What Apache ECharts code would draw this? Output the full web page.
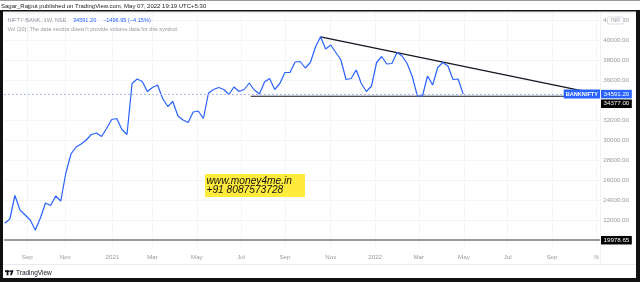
<!DOCTYPE html>
<html><head><meta charset="utf-8">
<script src="https://cdn.jsdelivr.net/npm/echarts@6/dist/echarts.min.js"></script>
<style>html,body{margin:0;padding:0;background:#fff}#c{width:640px;height:282px}</style>
</head><body><div id="c"></div>
<script>
// ---- data ----
const firstWeek = '2020-08-10';   // weekly bars (Monday dates), NIFTY BANK 1W closes
const closes = [
  21670, 22100, 24450, 23000, 22500, 22000, 21000, 22200, 23700, 23450,
  24400, 23900, 26700, 28600, 29300, 29600, 30000, 30550, 30700, 30350,
  31150, 32050, 32150, 31050, 30550, 35650, 36100, 35850, 34850, 35250,
  35500, 34150, 33350, 33850, 32400, 32000, 31750, 32800, 32900, 32150,
  34700, 35050, 35250, 35050, 34550, 35300, 34850, 35050, 35700, 35000,
  34600, 35800, 36150, 35050, 35650, 36750, 36750, 37800, 37850, 37200,
  37750, 39300, 40323, 39100, 39500, 38750, 38000, 36050, 36150, 37000,
  35650, 34850, 35400, 37750, 38350, 37600, 37650, 38750, 38400, 37650,
  36350, 34420, 34400, 36400, 35500, 37250, 37750, 37400, 36050, 36100, 34591.20
];
const trendDates = ['2021-10-18', '2022-10-18'];
const trendValues = [40323, 34830];
const supportDates = ['2021-07-14', '2022-11-06'];
const supportValues = [34377, 34377];
const hLineValue = 19978.65;
const changeText = '\u22121496.95 (\u22124.15%)';
const xTickDates = ['2020-09-10','2020-11-01','2021-01-05','2021-03-01','2021-05-01','2021-07-01','2021-08-30',
                    '2021-11-01','2022-01-01','2022-03-02','2022-05-03','2022-07-02','2022-09-01','2022-11-01'];
const xTickLabels = ['Sep','Nov','2021','Mar','May','Jul','Sep','Nov','2022','Mar','May','Jul','Sep','N'];
const yTicks = [22000, 24000, 26000, 28000, 30000, 32000, 36000, 38000, 40000, 42000];
const xMin = '2020-08-09', xMax = '2022-11-06';
const yMin = 19200, yMax = 42700;

// ---- build ----
const ts = s => new Date(s + 'T00:00:00Z').getTime();
const WEEK = 7 * 86400000;
const t0 = ts(firstWeek);
const lineData = closes.map((v, i) => [t0 + i * WEEK, v]);
const last = closes[closes.length - 1];
const xTickTs = xTickDates.map(ts);
const labelOf = {};
xTickTs.forEach((t, i) => { labelOf[t] = xTickLabels[i]; });
const FF = 'Liberation Sans';
const CLEAR = 'rgba(0,0,0,0)';

const chart = echarts.init(document.getElementById('c'), null, {renderer: 'canvas'});
const badge = (txt, bg, extra) => Object.assign({
  show: true, position: 'end', distance: 1, formatter: txt, color: '#fff', backgroundColor: bg,
  fontSize: 6.2, fontFamily: FF, padding: [1.5, 2.5, 1, 2.5], borderRadius: 0
}, extra || {});

chart.setOption({
  animation: false,
  textStyle: {fontFamily: FF},
  grid: {left: 4, right: 40, top: 13, bottom: 34},
  xAxis: {
    type: 'value', min: ts(xMin), max: ts(xMax), scale: true,
    axisLine: {show: false},
    axisTick: {show: false, customValues: xTickTs},
    splitLine: {show: true, lineStyle: {color: '#f4f5f9', width: 1}},
    axisLabel: {customValues: xTickTs, formatter: v => labelOf[v] || '', color: '#9a9a9a', fontSize: 6.2, margin: 6, fontFamily: FF}
  },
  yAxis: {
    type: 'value', position: 'right', min: yMin, max: yMax,
    axisLine: {show: false},
    axisTick: {show: false, customValues: yTicks},
    splitLine: {show: true, lineStyle: {color: '#f4f5f9', width: 1}},
    axisLabel: {customValues: yTicks, formatter: v => v.toFixed(2), color: '#9a9a9a', fontSize: 6.2, align: 'right', margin: 29, fontFamily: FF}
  },
  series: [
    {
      type: 'line', data: lineData, showSymbol: false, z: 4,
      lineStyle: {color: '#2962ff', width: 1.2},
      markLine: {
        silent: true, symbol: 'none', animation: false,
        data: [
          {yAxis: hLineValue, lineStyle: {color: '#787b86', width: 1.5, type: 'solid'},
           label: badge(hLineValue.toFixed(2), '#000')},
          {yAxis: last, lineStyle: {color: '#aab9f3', width: 1, type: [2, 2]},
           label: badge(last.toFixed(2), '#2962ff')},
          {yAxis: last + 0.001, lineStyle: {color: CLEAR, width: 0},
           label: badge('BANKNIFTY', '#2962ff', {position: 'insideEnd', distance: 0, fontWeight: 'bold', fontSize: 5.6, padding: [1.8, 2, 1.2, 2]})}
        ]
      }
    },
    {
      type: 'line', data: supportDates.map((d, i) => [ts(d), supportValues[i]]), showSymbol: false, z: 3,
      lineStyle: {color: '#131722', width: 1.2},
      markLine: {
        silent: true, symbol: 'none', animation: false,
        data: [{yAxis: supportValues[0], lineStyle: {color: CLEAR, width: 0},
                label: badge(supportValues[0].toFixed(2), '#000', {offset: [0, 7.5]})}]
      }
    },
    {
      type: 'line', data: trendDates.map((d, i) => [ts(d), trendValues[i]]), showSymbol: false, z: 3,
      lineStyle: {color: '#131722', width: 1.3}
    }
  ],
  graphic: [
    // frame
    {type: 'rect', shape: {x: 0, y: 0, width: 640, height: 1}, style: {fill: '#9a9a9a'}, z: 100},
    {type: 'rect', shape: {x: 0, y: 10, width: 640, height: 1.5}, style: {fill: '#111'}, z: 100},
    {type: 'rect', shape: {x: 0, y: 10, width: 3, height: 272}, style: {fill: '#111'}, z: 100},
    {type: 'rect', shape: {x: 636, y: 10, width: 4, height: 272}, style: {fill: '#111'}, z: 100},
    {type: 'rect', shape: {x: 0, y: 278, width: 640, height: 4}, style: {fill: '#111'}, z: 100},
    {type: 'rect', shape: {x: 3, y: 12.5, width: 633, height: 0.8}, style: {fill: '#e0e3eb'}, z: 99},
    {type: 'rect', shape: {x: 600, y: 13, width: 0.8, height: 251}, style: {fill: '#eceef3'}, z: 1},
    {type: 'rect', shape: {x: 3, y: 264, width: 633, height: 0.8}, style: {fill: '#e0e3eb'}, z: 99},
    // header
    {type: 'text', x: 1, y: 6, style: {text: 'Sagar_Rajput published on TradingView.com, May 07, 2022 19:19 UTC+5:30', fill: '#222', fontSize: 6, fontFamily: FF, verticalAlign: 'middle'}, z: 100},
    {type: 'text', x: 7.5, y: 20.7, style: {
      text: '{a|NIFTY BANK, 1W, NSE}  {b|' + last.toFixed(2) + '}  {b|' + changeText + '}',
      rich: {a: {fill: '#9598a1', fontSize: 5.6, fontFamily: FF}, b: {fill: '#2962ff', fontSize: 5.6, fontFamily: FF}},
      verticalAlign: 'middle'}, z: 100},
    {type: 'text', x: 7.5, y: 29.3, style: {text: "Vol (20): The data vendor doesn't provide volume data for this symbol.", fill: '#9598a1', fontSize: 5.5, fontFamily: FF, verticalAlign: 'middle'}, z: 100},
    // INR badge on price scale
    {type: 'rect', shape: {x: 607.5, y: 17, width: 16, height: 7, r: 1.5}, style: {fill: '#fff', stroke: '#c9ccd4', lineWidth: 0.7}, z: 100},
    {type: 'text', x: 615.5, y: 20.6, style: {text: 'INR', fill: '#9a9a9a', fontSize: 5.2, fontFamily: FF, align: 'center', verticalAlign: 'middle'}, z: 101},
    // watermark
    {type: 'rect', shape: {x: 205, y: 174, width: 100, height: 23}, style: {fill: '#ffeb3b'}, z: 50},
    {type: 'text', x: 206.5, y: 180.8, style: {text: 'www.money4me.in', fill: '#111', fontSize: 10.2, fontStyle: 'italic', fontFamily: FF, verticalAlign: 'middle'}, z: 51},
    {type: 'text', x: 206.5, y: 190.4, style: {text: '+91 8087573728', fill: '#111', fontSize: 10.2, fontStyle: 'italic', fontFamily: FF, verticalAlign: 'middle'}, z: 51},
    // footer logo
    {type: 'rect', shape: {x: 5, y: 270.3, width: 4, height: 1.8}, style: {fill: '#131722'}, z: 100},
    {type: 'rect', shape: {x: 6.6, y: 270.3, width: 1.8, height: 5}, style: {fill: '#131722'}, z: 100},
    {type: 'circle', shape: {cx: 10.2, cy: 271.2, r: 0.9}, style: {fill: '#131722'}, z: 100},
    {type: 'polygon', shape: {points: [[11.2, 270.3], [13.6, 270.3], [11.8, 275.3], [10.2, 275.3]]}, style: {fill: '#131722'}, z: 100},
    {type: 'text', x: 16, y: 273.3, style: {text: 'TradingView', fill: '#131722', fontSize: 6.5, fontFamily: FF, verticalAlign: 'middle'}, z: 100}
  ]
});
</script>
</body></html>
